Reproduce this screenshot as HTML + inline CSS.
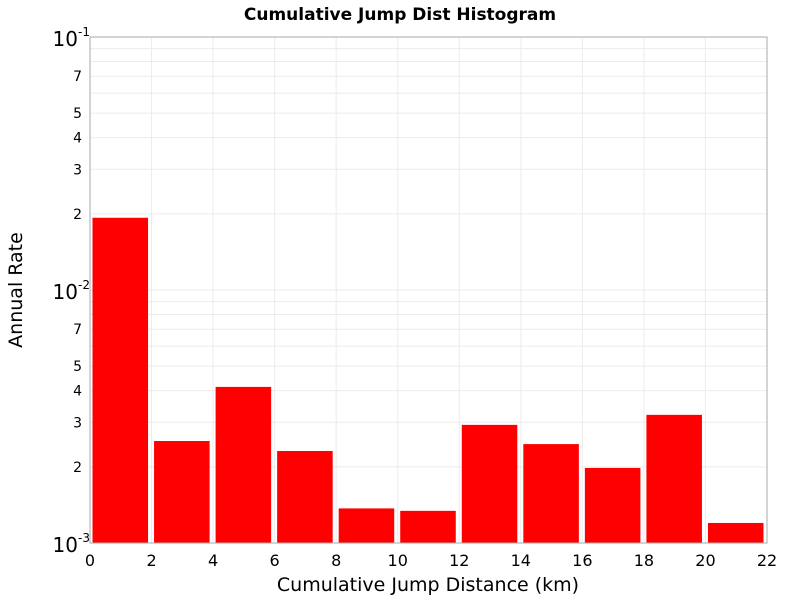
<!DOCTYPE html>
<html><head><meta charset="utf-8"><style>
body{margin:0;background:#fff;font-family:"Liberation Sans","DejaVu Sans",sans-serif;}
</style></head><body>
<svg id="chart" width="800" height="600" xmlns="http://www.w3.org/2000/svg" font-family="DejaVu Sans, Liberation Sans, sans-serif">
<text x="400" y="20" text-anchor="middle" font-size="17" font-weight="bold">Cumulative Jump Dist Histogram</text>
<g id="grid"></g><g id="bars"></g><g id="axes"></g>
<text x="428" y="591" text-anchor="middle" font-size="19">Cumulative Jump Distance (km)</text>
<text transform="translate(22,290) rotate(-90)" text-anchor="middle" font-size="19">Annual Rate</text>
</svg>
<script>
const binStarts=[0,2,4,6,8,10,12,14,16,18,20];
const rates=[0.0193,0.00253,0.00414,0.00231,0.00137,0.00134,0.00293,0.00246,0.00198,0.00321,0.0012];
const xTicks=[0,2,4,6,8,10,12,14,16,18,20,22];
const minorLabels=[2,3,4,5,7];
const decades=[-3,-2,-1];
const NS="http://www.w3.org/2000/svg";
const L=90,R=767,T=37,B=543,xmin=0,xmax=22,lmin=-3,lmax=-1;
const X=v=>L+(v-xmin)/(xmax-xmin)*(R-L);
const Y=v=>B-(Math.log10(v)-lmin)/(lmax-lmin)*(B-T);
function el(t,a,p){const e=document.createElementNS(NS,t);for(const k in a)e.setAttribute(k,a[k]);p.appendChild(e);return e;}
const g=document.getElementById('grid'),b=document.getElementById('bars'),ax=document.getElementById('axes');
el('rect',{x:L,y:T,width:R-L,height:B-T,fill:'#fff',stroke:'none'},g);
for(let d=lmin;d<lmax;d++){for(let m=1;m<10;m++){const v=m*Math.pow(10,d);const y=Y(v);
 const ln=el('line',{x1:L,x2:R,y1:y,y2:y,stroke:'#ebebeb','stroke-width':1},g);
 
 if(minorLabels.includes(m)){const t=el('text',{x:82,y:y+5,'text-anchor':'end','font-size':14},ax);t.textContent=m;
 }}}
xTicks.forEach(v=>{const x=X(v);const ln=el('line',{x1:x,x2:x,y1:T,y2:B,stroke:'#ebebeb'},g);
 
 const t=el('text',{x:x,y:566,'text-anchor':'middle','font-size':16},ax);t.textContent=v;
 });
decades.forEach(d=>{const y=Y(Math.pow(10,d));const t=el('text',{x:78,y:y+9,'text-anchor':'end','font-size':20},ax);
 t.textContent='10';
 const s=el('text',{x:78,y:y-1,'text-anchor':'start','font-size':12},ax);s.textContent=d;
 });
binStarts.forEach((s,i)=>{const x0=X(s)+2.5,x1=X(s+2)-3.5,y=Y(rates[i]);
 const r=el('rect',{x:x0,y:y,width:x1-x0,height:B-y,fill:'#ff0000'},b);
 });
const f=el('rect',{x:L,y:T,width:R-L,height:B-T,fill:'none',stroke:'#aaa'},ax);

</script>
</body></html>
